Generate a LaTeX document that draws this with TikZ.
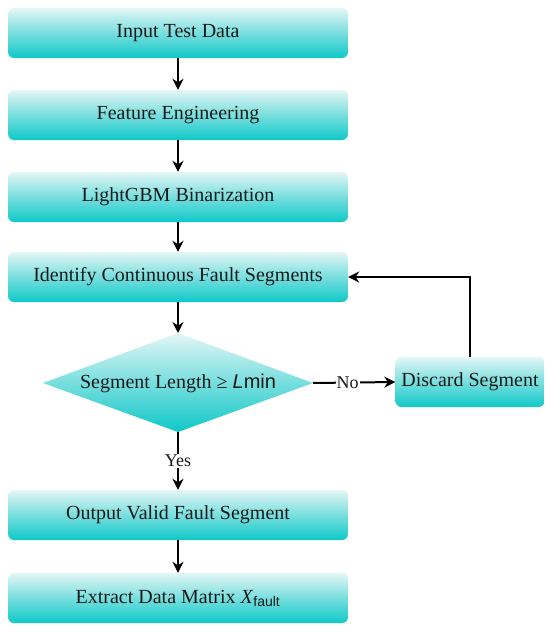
\documentclass[tikz,border=0pt]{standalone}
\usepackage{fontspec}
\setmainfont{Liberation Serif}
\setsansfont{Liberation Sans}
\usetikzlibrary{arrows.meta}
\definecolor{tealtop}{RGB}{228,246,246}
\definecolor{tealmid}{RGB}{120,222,222}
\definecolor{tealbot}{RGB}{16,200,200}
\definecolor{txt}{RGB}{25,25,25}
\tikzset{
  tealshade/.style={top color=tealtop, bottom color=tealbot, middle color=tealmid},
  procbox/.style={rectangle, rounded corners=6pt, minimum width=340pt, minimum height=50pt,
    inner sep=0pt, tealshade, draw=none,
    text=txt, font=\fontsize{20}{23}\selectfont},
  smallbox/.style={procbox, minimum width=149pt},
  plaintext/.style={inner sep=0pt, text=txt, font=\fontsize{20}{23}\selectfont},
  conn/.style={line width=2pt, draw=black, -{Stealth[length=11pt,width=11pt]}},
  lbl/.style={fill=white, inner sep=1pt, text=txt, font=\fontsize{18}{20}\selectfont}
}
\begin{document}
\begin{tikzpicture}[x=1pt,y=-1pt]
\useasboundingbox (0,0) rectangle (550,632);
\node[procbox] (b1) at (178,33) {Input Test Data};
\node[procbox] (b2) at (178,115) {Feature Engineering};
\node[procbox] (b3) at (178,197) {LightGBM Binarization};
\node[procbox] (b4) at (178,277) {Identify Continuous Fault Segments};
% decision diamond
\coordinate (dtop) at (178,333);
\coordinate (dbot) at (178,432);
\coordinate (dleft) at (43,383);
\coordinate (dright) at (313,383);
\shade[tealshade] (dtop) -- (dright) -- (dbot) -- (dleft) -- cycle;
\node[plaintext] (d) at (178,383) {Segment Length ≥ \textsf{\textit{L}min}};
\node[smallbox] (ds) at (470,382) {Discard Segment};
\node[procbox] (b6) at (178,515) {Output Valid Fault Segment};
\node[procbox] (b7) at (178,598) {Extract Data Matrix \textit{X}\textsubscript{\textsf{fault}}};
\draw[conn] (b1) -- (b2);
\draw[conn] (b2) -- (b3);
\draw[conn] (b3) -- (b4);
\draw[conn] (b4) -- (dtop);
\draw[conn] (dbot) -- node[lbl] {Yes} (b6);
\draw[conn] (b6) -- (b7);
\draw[conn] (dright) -- node[lbl, pos=0.42] {No} (ds.west);
\draw[conn] (ds.north) |- (b4.east);
\end{tikzpicture}
\end{document}
